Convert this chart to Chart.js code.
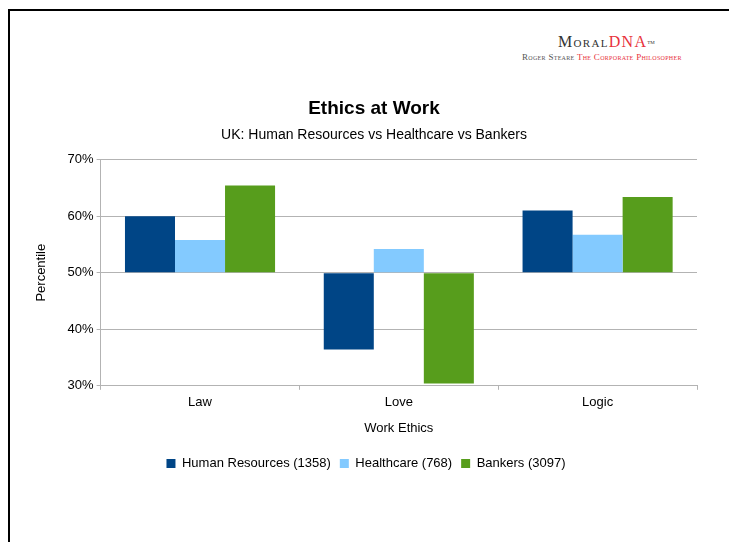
<!DOCTYPE html>
<html>
<head>
<meta charset="utf-8">
<script src="https://cdn.jsdelivr.net/npm/chart.js@4"></script>
<style>
  html, body { margin: 0; padding: 0; background: #fff; overflow: hidden; }
  body { width: 729px; height: 542px; position: relative; }
  #frame { position: absolute; left: 8px; top: 9px; width: 800px; height: 600px; border-left: 2px solid #000; border-top: 2px solid #000; }
  #wrap { position: absolute; left: 12px; top: 12px; width: 724px; height: 530px; }
  #logo1 { position: absolute; left: 558px; top: 34px; font-family: "Liberation Serif", "DejaVu Serif", serif; font-size: 16px; font-variant: small-caps; color: #333; white-space: nowrap; line-height: 16px; letter-spacing: 1.3px; }
  #logo1 .red { color: #e8323c; }
  #logo1 sup { font-size: 5px; vertical-align: top; position: relative; top: 1px; font-variant: normal; letter-spacing: 0; }
  #logo2 { position: absolute; left: 522px; top: 52px; font-family: "Liberation Serif", "DejaVu Serif", serif; font-size: 9px; font-variant: small-caps; color: #555; white-space: nowrap; line-height: 10px; letter-spacing: 0.3px; }
  #logo2 .red { color: #e8323c; }
</style>
</head>
<body>
<div id="frame"></div>
<div id="logo1">Moral<span class="red">DNA</span><sup>TM</sup></div>
<div id="logo2">Roger Steare <span class="red">The Corporate Philosopher</span></div>
<div id="wrap"><canvas id="c" width="724" height="530"></canvas></div>
<script>
const categories = ["Law", "Love", "Logic"];
const seriesNames = ["Human Resources (1358)", "Healthcare (768)", "Bankers (3097)"];
const humanResources = [60.0, 36.4, 61.0];
const healthcare = [55.8, 54.2, 56.7];
const bankers = [65.4, 30.4, 63.4];
const yTicks = [30, 40, 50, 60, 70];
const baseline = 50;

const colors = ["#004586", "#83caff", "#579d1c"];
const gridGray = "#b3b3b3";
const font = "'Liberation Sans', Arial, sans-serif";

const seriesValues = [humanResources, healthcare, bankers];

// shift the bottom legend a little to the left, as in the reference
const legendShift = {
  id: "legendShift",
  afterLayout(chart) {
    const l = chart.legend;
    if (l) { l.left -= 8; l.right -= 8; }
  }
};

new Chart(document.getElementById("c"), {
  type: "bar",
  data: {
    labels: categories,
    datasets: seriesNames.map((name, i) => ({
      label: name,
      data: seriesValues[i],
      base: baseline,
      backgroundColor: colors[i],
      borderWidth: 0,
      categoryPercentage: 0.755,
      barPercentage: 1.0,
      yAxisID: "y"
    }))
  },
  plugins: [legendShift],
  options: {
    responsive: false,
    animation: false,
    devicePixelRatio: 1,
    layout: { padding: { left: 18, right: 18, top: 0, bottom: 62 } },
    plugins: {
      title: {
        display: true,
        text: "Ethics at Work",
        color: "#000",
        font: { family: font, size: 19, weight: "bold" },
        padding: { top: 85, bottom: 7 }
      },
      subtitle: {
        display: true,
        text: "UK: Human Resources vs Healthcare vs Bankers",
        color: "#000",
        font: { family: font, size: 14 },
        padding: { top: 0, bottom: 16 }
      },
      legend: {
        position: "bottom",
        labels: {
          color: "#000",
          font: { family: font, size: 13 },
          boxWidth: 9,
          boxHeight: 9,
          padding: 9
        }
      },
      tooltip: { enabled: false }
    },
    scales: {
      x: {
        offset: true,
        grid: {
          offset: true,
          drawOnChartArea: true,
          color: (ctx) => (ctx.index === categories.length ? gridGray : "rgba(0,0,0,0)"),
          tickColor: gridGray,
          tickLength: 4
        },
        border: { display: true, color: gridGray },
        ticks: { color: "#000", font: { family: font, size: 13 }, padding: 5 },
        title: {
          display: true,
          text: "Work Ethics",
          color: "#000",
          font: { family: font, size: 13 },
          padding: { top: 5, bottom: 12 }
        }
      },
      y: {
        min: yTicks[0],
        max: yTicks[yTicks.length - 1],
        afterBuildTicks: (scale) => { scale.ticks = yTicks.map(v => ({ value: v })); },
        grid: { color: gridGray, tickColor: gridGray, tickLength: 4 },
        border: { display: true, color: gridGray },
        ticks: {
          color: "#000",
          font: { family: font, size: 13 },
          padding: 3,
          callback: (v) => v + "%"
        },
        title: {
          display: true,
          text: "Percentile",
          color: "#000",
          font: { family: font, size: 13 },
          padding: { top: 4, bottom: 15 }
        }
      },
      yRight: {
        position: "right",
        display: true,
        grid: { drawOnChartArea: false, drawTicks: false },
        border: { display: false },
        ticks: { display: false },
        afterFit: (scale) => { scale.width = 21; }
      }
    }
  }
});
</script>
</body>
</html>
